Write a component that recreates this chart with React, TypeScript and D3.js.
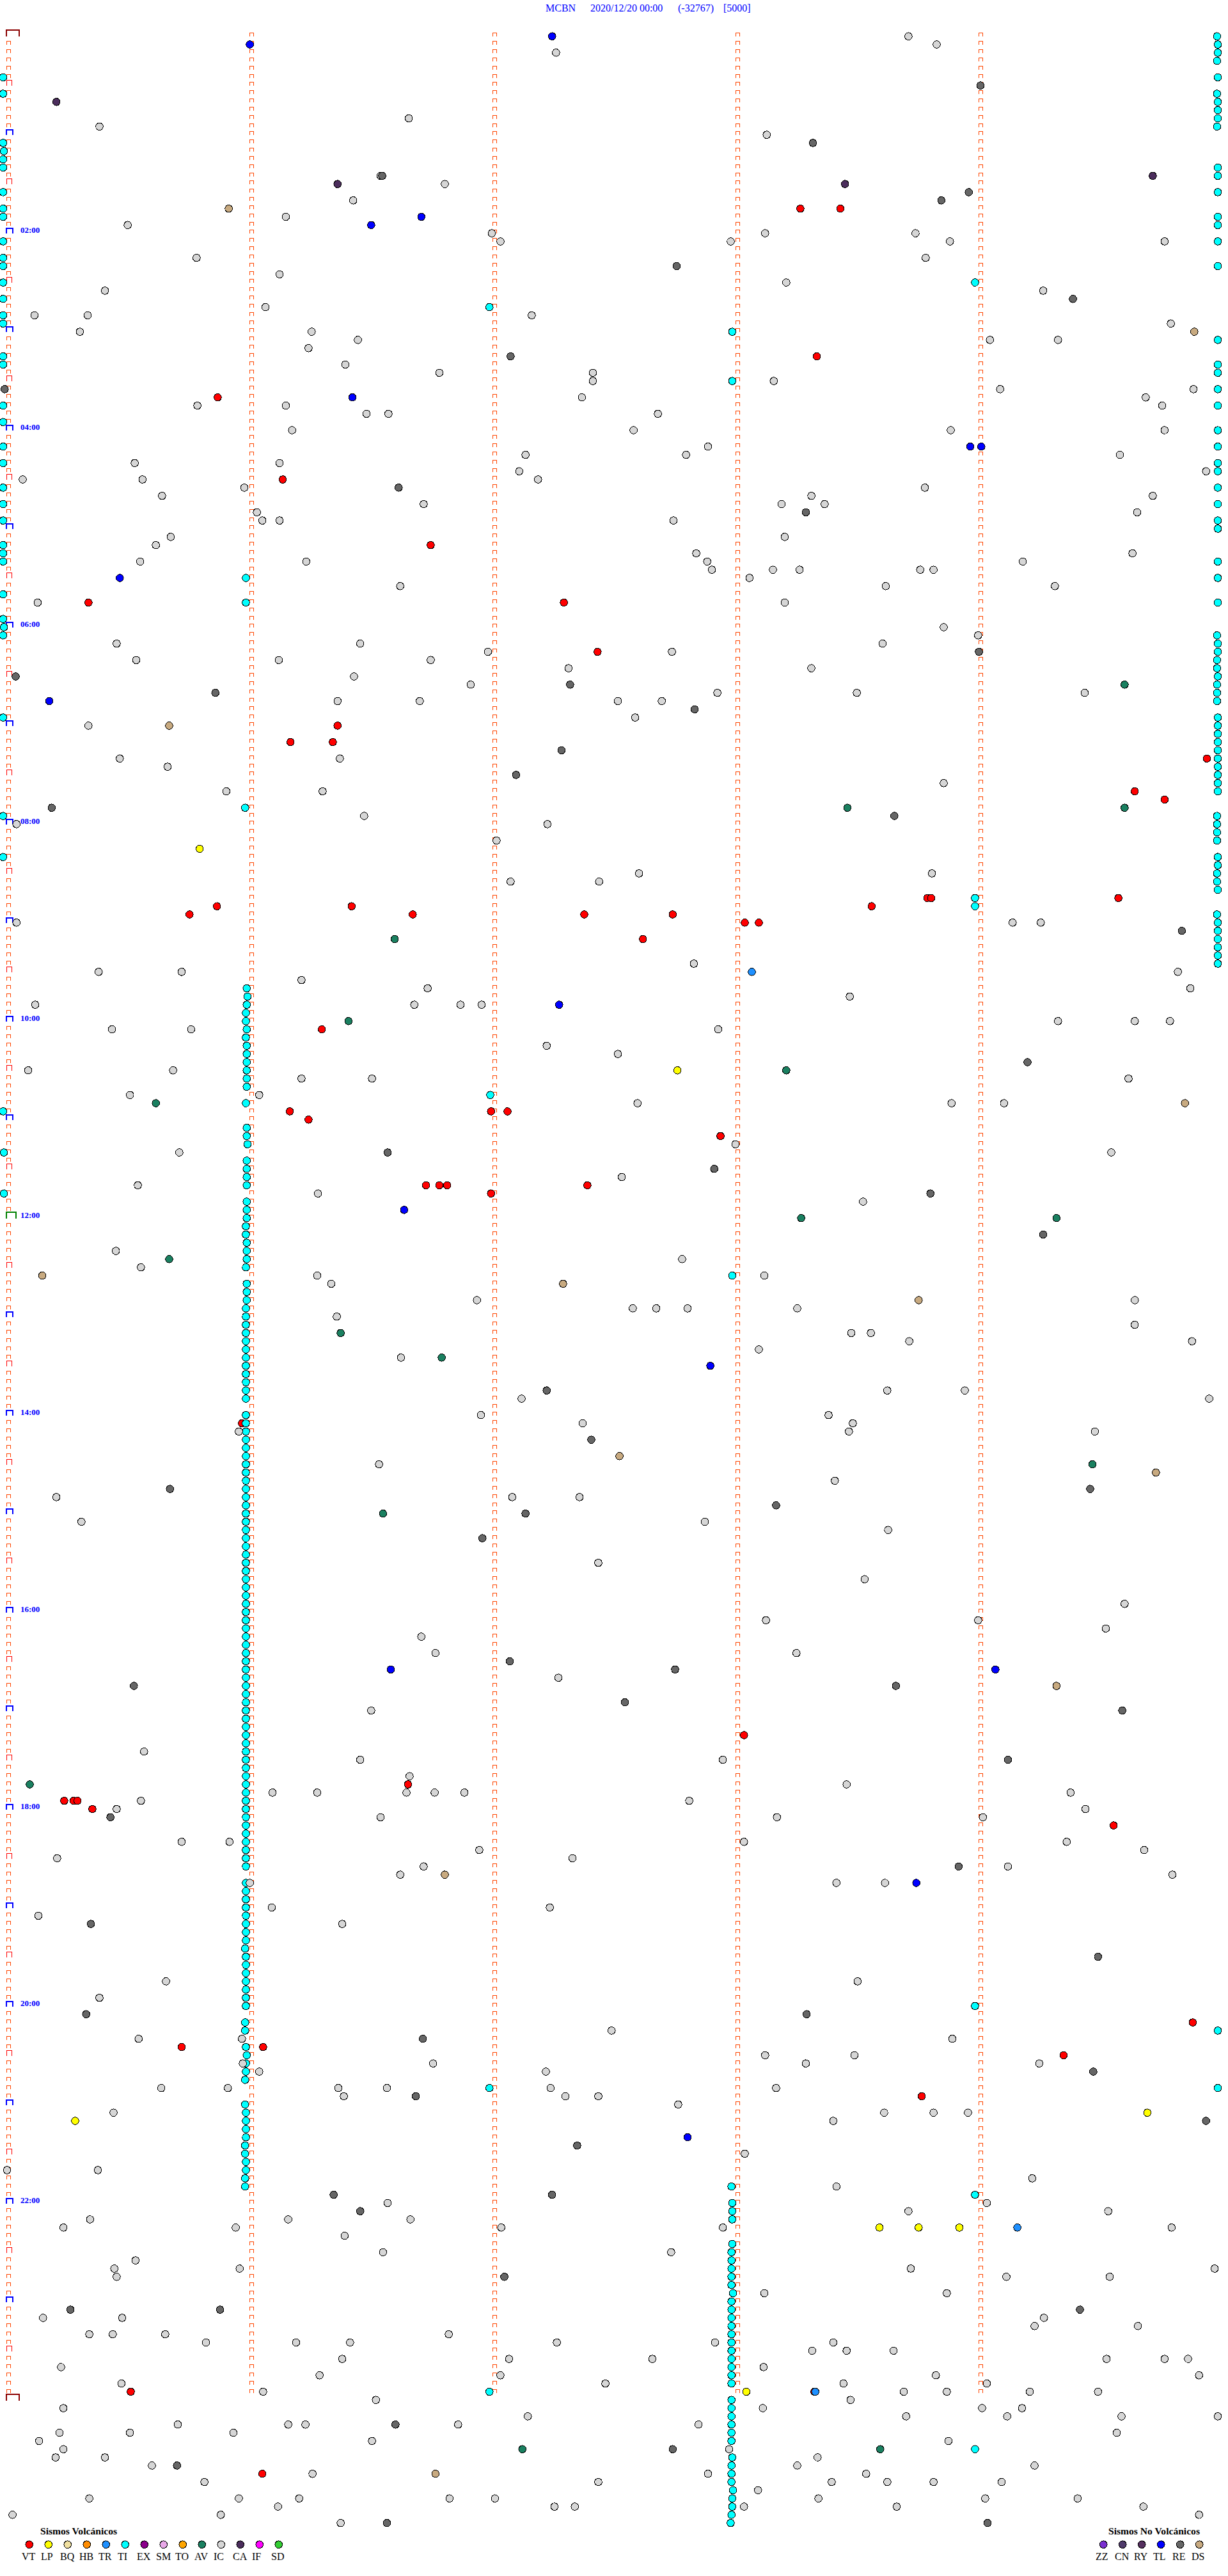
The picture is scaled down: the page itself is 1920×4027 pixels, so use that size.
import React from "react";
import * as d3 from "d3";

// Each event: [row (5-minute trace index), offset along that trace]
type Ev = [number, number];

const VT: Ev[] = [[21,1022],[21,1073],[39,1043],[44,278],[54,361],[62,550],[69,113],[69,720],[75,763],[84,431],[86,371],[86,425],[88,1541],[92,1449],[93,1487],[105,1184],[105,1189],[105,1428],[106,277],[106,449],[106,1113],[107,242],[107,527],[107,746],[107,859],[108,951],[108,969],[110,821],[121,411],[131,370],[131,627],[131,648],[132,394],[134,920],[140,544],[140,561],[140,571],[140,750],[141,627],[169,309],[207,950],[213,521],[215,82],[215,94],[215,99],[216,118],[218,1422],[242,1523],[245,232],[245,336],[246,1358],[251,1177],[287,167],[287,1040],[297,335]];
const LP: Ev[] = [[99,255],[126,865],[253,1465],[254,96],[267,1123],[267,1173],[267,1225],[287,953]];
const TR: Ev[] = [[114,960],[267,1299],[287,1041]];
const TL: Ev[] = [[0,705],[1,319],[22,538],[23,474],[44,450],[50,1239],[50,1253],[66,153],[81,63],[118,714],[143,516],[162,907],[199,499],[199,1271],[225,1170],[256,878]];
const AV: Ev[] = [[79,1436],[94,1082],[94,1436],[110,504],[120,445],[126,1004],[130,199],[144,1023],[144,1349],[149,216],[158,435],[161,564],[174,1395],[180,489],[213,38],[294,667],[294,1124]];
const CA: Ev[] = [[8,72],[17,1472],[18,431],[18,1079]];
const RE: Ev[] = [[6,1252],[13,1038],[17,488],[19,1237],[20,1202],[28,864],[32,1370],[39,652],[43,6],[55,509],[58,1029],[75,1250],[78,20],[79,728],[80,275],[82,887],[87,717],[90,659],[94,66],[95,1142],[109,1509],[125,1312],[136,495],[138,912],[141,1188],[146,1332],[165,698],[171,755],[177,217],[177,1392],[179,991],[180,671],[183,616],[198,651],[199,862],[201,171],[201,1144],[203,798],[204,1433],[210,1287],[217,141],[223,1224],[230,116],[234,1402],[241,110],[241,1030],[244,540],[248,1396],[251,531],[254,1540],[257,737],[263,426],[263,705],[265,460],[273,644],[277,90],[277,281],[277,1379],[291,505],[294,859],[296,226],[303,494],[303,1261]];
const DS: Ev[] = [[21,292],[36,1525],[84,216],[130,1513],[151,54],[152,719],[154,1173],[173,791],[175,1476],[201,1349],[224,568],[297,556]];
const TI_LEFT: Ev[] = [[5,4],[7,4],[13,4],[14,5],[15,4],[16,4],[19,4],[21,4],[22,4],[25,4],[27,4],[28,4],[30,4],[32,4],[34,4],[35,4],[39,4],[40,4],[45,4],[47,4],[50,4],[52,4],[55,4],[57,4],[59,4],[62,4],[63,4],[64,4],[68,4],[71,4],[72,5],[73,4],[83,4],[95,4],[100,4],[131,4],[136,5],[141,5]];
const TI_RIGHT: Ev[] = [[0,1554],[1,1555],[2,1555],[3,1554],[5,1555],[7,1554],[8,1555],[9,1555],[10,1555],[11,1554],[16,1555],[17,1555],[19,1555],[22,1555],[23,1555],[25,1555],[28,1555],[37,1555],[40,1555],[41,1555],[43,1555],[45,1555],[48,1555],[50,1555],[52,1555],[53,1555],[55,1555],[57,1555],[59,1555],[60,1555],[64,1555],[66,1555],[69,1555],[73,1554],[74,1555],[75,1555],[76,1554],[77,1554],[78,1555],[79,1554],[80,1554],[81,1554],[83,1555],[84,1555],[85,1555],[86,1555],[87,1555],[88,1555],[89,1555],[90,1555],[91,1555],[92,1555],[95,1554],[96,1554],[97,1554],[98,1554],[100,1555],[101,1555],[102,1554],[103,1554],[104,1555],[107,1554],[108,1555],[109,1555],[110,1555],[111,1555],[112,1555],[113,1555],[243,1555],[250,1555]];
const TI_SECOND: Ev[] = [[66,314],[69,314],[94,313],[116,315],[117,316],[118,315],[119,314],[120,314],[121,315],[122,314],[123,315],[124,315],[125,315],[126,315],[127,315],[128,315],[130,314],[133,315],[134,315],[135,316],[137,315],[138,315],[139,315],[140,315],[142,315],[143,315],[144,315],[145,314],[146,314],[147,315],[148,315],[149,315],[150,314],[152,315],[153,315],[154,315],[155,314],[156,314],[157,314],[158,314],[159,314],[160,314],[161,314],[162,314],[163,314],[164,314],[165,314],[166,314],[168,314],[169,314],[170,314],[171,314],[172,314],[173,314],[174,314],[175,314],[176,314],[177,314],[178,314],[179,314],[180,314],[181,314],[182,314],[183,314],[184,314],[185,314],[186,314],[187,314],[188,314],[189,314],[190,314],[191,314],[192,314],[193,314],[194,314],[195,314],[196,314],[197,314],[198,314],[199,314],[200,314],[201,314],[202,314],[203,314],[204,314],[205,314],[206,314],[207,314],[208,314],[209,314],[210,314],[211,314],[212,314],[213,314],[214,314],[215,314],[216,314],[217,314],[218,314],[219,314],[220,314],[221,314],[222,314],[223,314],[225,314],[226,314],[227,314],[228,314],[229,314],[230,314],[231,314],[232,314],[233,313],[234,314],[235,314],[236,314],[237,314],[238,314],[239,314],[240,314],[242,313],[243,313],[245,314],[246,315],[247,314],[248,314],[249,313],[252,313],[253,314],[254,314],[255,314],[256,314],[257,313],[258,313],[259,314],[260,314],[261,313],[262,313]];
const TI_THIRD: Ev[] = [[33,625],[129,626],[250,625],[287,625]];
const TI_FOURTH: Ev[] = [[36,935],[42,935],[151,935],[262,934],[264,935],[265,935],[266,935],[269,935],[270,934],[271,934],[272,934],[273,934],[274,934],[275,936],[276,934],[277,934],[278,934],[279,934],[280,934],[281,934],[282,934],[283,934],[284,934],[285,934],[286,934],[288,934],[289,934],[290,934],[291,934],[292,934],[293,934],[295,935],[296,934],[297,934],[298,934],[299,936],[300,935],[301,935],[302,934],[303,933]];
const TI_FIFTH: Ev[] = [[30,1245],[105,1245],[106,1245],[240,1245],[263,1245],[294,1245]];
const IC: Ev[] = [
[0,1160],[1,1196],[2,710],[10,522],[11,127],[12,979],[17,486],[18,568],[20,451],[22,365],[23,163],[24,628],[24,977],[24,1169],
[25,639],[25,933],[25,1213],[25,1487],[27,251],[27,1182],[29,357],[30,1004],[31,134],[31,1332],[33,339],[34,44],[34,112],[34,679],[35,1495],
[36,102],[36,398],[37,457],[37,1264],[37,1351],[38,394],[40,441],[41,561],[41,757],[42,757],[42,988],[43,1277],[43,1524],[44,743],[44,1463],
[45,252],[45,365],[45,1484],[46,468],[46,496],[46,840],[48,373],[48,809],[48,1214],[48,1487],
[50,904],[51,671],[51,876],[51,1430],[52,172],[52,357],[53,663],[53,1540],[54,29],[54,182],[54,687],[55,312],[55,1181],[56,207],[56,1036],[56,1472],
[57,541],[57,998],[57,1053],[58,328],[58,1452],[59,335],[59,357],[59,860],[61,218],[61,1002],[62,199],[63,889],[63,1446],[64,179],[64,391],[64,903],[64,1306],
[65,909],[65,987],[65,1021],[65,1175],[65,1192],[66,957],[67,511],[67,1131],[67,1347],[69,48],[69,1002],[72,1205],[73,1249],[74,149],[74,460],[74,1127],
[75,623],[75,858],[76,174],[76,356],[76,550],[77,726],[77,1036],[78,452],[79,601],[80,916],[80,1094],[80,1385],[81,431],[81,536],[81,789],[81,845],[83,811],
[84,113],[88,153],[88,434],[89,214],[91,1205],[92,289],[92,412],[95,465],[96,21],[96,699],[98,634],
[102,816],[102,1190],[103,652],[103,765],[108,21],[108,1293],[108,1329],[113,886],[114,126],[114,232],[114,1504],[115,385],[116,546],[116,1520],[117,1085],
[118,45],[118,529],[118,588],[118,615],[120,1351],[120,1449],[120,1494],[121,143],[121,244],[121,917],[123,698],[124,789],[126,36],[126,221],[127,385],[127,475],[127,1441],
[129,166],[129,331],[130,814],[130,1215],[130,1282],[135,939],[136,229],[136,1419],[139,794],[140,176],[141,406],[142,1102],[148,148],[149,871],[150,180],[151,405],[151,976],[152,423],
[154,609],[154,1449],[155,808],[155,838],[155,878],[155,1018],[156,430],[157,1449],[158,1087],[158,1112],[159,1161],[159,1522],[160,969],[161,512],[165,1133],[165,1232],[166,666],[166,1544],
[168,614],[168,1058],[169,744],[169,1089],[170,305],[170,1084],[170,1398],[174,484],[176,1066],[178,72],[178,654],[178,740],[181,104],[181,900],[182,1134],[186,764],[188,1104],[191,1436],
[193,978],[193,1249],[194,1412],[195,538],[197,556],[197,1017],[200,713],[204,474],
[209,184],[210,460],[210,923],[212,523],[213,1081],[214,348],[214,405],[214,519],[214,555],[214,593],[214,1367],[215,180],[215,880],[216,149],[216,1386],[217,486],[217,992],[217,1255],
[220,232],[220,293],[220,950],[220,1362],[221,612],[221,1461],[222,73],[222,731],[223,541],[223,1287],[224,511],[224,1497],[225,319],[225,1068],[225,1130],[228,347],[228,702],[229,49],[230,437],
[237,212],[237,1095],[239,127],[243,781],[244,177],[244,309],[244,1216],[246,977],[246,1091],[247,310],[247,553],[247,1029],[247,1327],[248,331],[248,697],
[250,206],[250,291],[250,432],[250,494],[250,703],[250,991],[251,439],[251,722],[251,764],[252,866],[253,145],[253,1129],[253,1192],[253,1236],[254,1064],
[258,951],[260,9],[260,125],[261,1318],[262,1068],[264,495],[264,1260],[265,1160],[265,1415],[266,115],[266,368],[266,524],[267,81],[267,301],[267,640],[267,923],[267,1496],[268,440],
[270,489],[270,857],[271,173],[272,146],[272,306],[272,1163],[272,1551],[273,149],[273,1285],[273,1417],[275,976],[275,1209],[278,55],[278,156],[278,1333],[279,1321],[279,1453],
[280,114],[280,144],[280,211],[280,573],[281,263],[281,378],[281,447],[281,711],[281,913],[281,1064],[282,1037],[282,1081],[282,1141],[283,437],[283,650],[283,833],[283,1413],[283,1487],[283,1517],
[284,78],[284,975],[285,408],[285,639],[285,1195],[285,1531],[286,155],[286,773],[286,1077],[286,1260],[287,336],[287,1154],[287,1209],[287,1315],[287,1402],[288,480],[288,1086],
[289,81],[289,974],[289,1254],[289,1305],[290,674],[290,1157],[290,1286],[290,1432],[290,1555],[291,227],[291,368],[291,390],[291,585],[291,892],[292,76],[292,166],[292,298],[292,1426],
[293,50],[293,475],[293,1211],[294,81],[294,931],[295,71],[295,134],[295,1044],[296,194],[296,1018],[296,1321],[297,399],[297,904],[297,1106],[298,261],[298,764],[298,1062],[298,1133],[298,1192],[298,1279],
[299,968],[300,114],[300,305],[300,382],[300,574],[300,632],[300,1045],[300,1258],[300,1376],[301,355],[301,708],[301,734],[301,950],[301,1145],[301,1460],[302,16],[302,282],[302,1531],[303,435]
];

const title = ["MCBN", "2020/12/20 00:00", "(-32767)", "[5000]"];
const titleX = [853, 923, 1060, 1131];
const hourLabels = ["02:00","04:00","06:00","08:00","10:00","12:00","14:00","16:00","18:00","20:00","22:00"];
const volcanicCodes = ["VT","LP","BQ","HB","TR","TI","EX","SM","TO","AV","IC","CA","IF","SD"];
const volcanicColors = ["#ff0000","#ffff00","#f0e0a0","#ff8c00","#1e90ff","#00ffff","#8b008b","#e8a8e8","#ffa500","#1a8060","#d6d6d6","#4b2d5c","#ff00ff","#32cd32"];
const tectonicCodes = ["ZZ","CN","RY","TL","RE","DS"];
const tectonicColors = ["#7a2fd0","#4f3a6a","#55305f","#0000ff","#666666","#c8aa80"];
const minuteMarks = [0, 1, 2, 3, 4];

const layers: [Ev[], string][] = [
  [VT, "#ff0000"], [TI_LEFT, "#00ffff"], [TI_RIGHT, "#00ffff"], [TI_SECOND, "#00ffff"], [TI_THIRD, "#00ffff"],
  [TI_FOURTH, "#00ffff"], [TI_FIFTH, "#00ffff"], [IC, "#d6d6d6"], [AV, "#1a8060"], [LP, "#ffff00"], [DS, "#c8aa80"],
  [CA, "#4b2d5c"], [RE, "#666666"], [TL, "#0000ff"], [TR, "#1e90ff"],
];

const W = 1920, H = 4027;
const xOffset = d3.scaleLinear().domain([0, 1568]).range([0, 1920]);
const yRow = d3.scaleLinear().domain([0, 303]).range([56.7, 3944.2]);
const xMinute = d3.scaleLinear().domain([0, 4]).range([13, 1533]);
const yHalfHour = d3.scaleLinear().domain([0, 48]).range([46, 3742]);
const SERIF = "'Liberation Serif', serif";

function capPath(x0: number, x1: number, y0: number, y1: number) {
  return `M${x0},${y1}V${y0}H${x1}V${y1}`;
}

export default function App() {
  const halfHours = d3.range(0, 48);
  const ticks: string[] = [];
  halfHours.forEach((k) => {
    d3.range(0, 6).forEach((i) => {
      const y = yHalfHour(k) + 5 + 13 * i;
      minuteMarks.forEach((m) => {
        if (m === 0 && i === 0) return;
        const x = Math.round(xMinute(m));
        ticks.push(capPath(x - 3, x + 3, y + 0.5, y + 6));
      });
    });
  });
  return (
    <svg width={W} height={H} style={{ position: "absolute", left: 0, top: 0, background: "#fff" }} fontFamily={SERIF}>
      {title.map((t, i) => (
        <text key={t} x={titleX[i]} y={18} fontSize={16} fill="#0000ff" xmlSpace="preserve">{t}</text>
      ))}
      <path d={ticks.join("")} fill="none" stroke="#ff4500" strokeWidth={1} shapeRendering="crispEdges" />
      {d3.range(0, 49).map((k) => {
        const y = yHalfHour(k);
        if (k === 0 || k === 48)
          return <path key={k} d={capPath(10, 30, y + 1, y + 11)} fill="none" stroke="#8b0000" strokeWidth={2} shapeRendering="crispEdges" />;
        if (k === 24)
          return <path key={k} d={capPath(10, 25, y + 1, y + 11)} fill="none" stroke="#008000" strokeWidth={2} shapeRendering="crispEdges" />;
        if (k % 2 === 0)
          return <path key={k} d={capPath(10, 20, y + 3, y + 11)} fill="none" stroke="#0000ff" strokeWidth={2} shapeRendering="crispEdges" />;
        return <path key={k} d={capPath(10.5, 18.5, y + 2.5, y + 11)} fill="none" stroke="#ff0000" strokeWidth={1} shapeRendering="crispEdges" />;
      })}
      {hourLabels.map((t, i) => (
        <text key={t} x={32} y={yHalfHour((i + 1) * 4) + 10} fontSize={13} fontWeight="bold" fill="#0000ff">{t}</text>
      ))}
      {layers.map(([data, color], l) => (
        <g key={l} fill={color} stroke="#000" strokeWidth={1} shapeRendering="crispEdges">
          {data.map(([r, o], i) => (
            <circle key={i} cx={xOffset(o)} cy={yRow(r)} r={5.8} />
          ))}
        </g>
      ))}
      <text x={63} y={3962} fontSize={15.6} fontWeight="bold">Sismos Volcánicos</text>
      {volcanicCodes.map((c, i) => (
        <g key={c}>
          <circle cx={45.7 + 30 * i} cy={3977.7} r={5.8} fill={volcanicColors[i]} stroke="#000" shapeRendering="crispEdges" />
          <text x={34 + 30 * i} y={4001.5} fontSize={16}>{c}</text>
        </g>
      ))}
      <text x={1733} y={3962} fontSize={15.6} fontWeight="bold">Sismos No Volcánicos</text>
      {tectonicCodes.map((c, i) => (
        <g key={c}>
          <circle cx={1725.3 + 30 * i} cy={3977.7} r={5.8} fill={tectonicColors[i]} stroke="#000" shapeRendering="crispEdges" />
          <text x={1713 + 30 * i} y={4001.5} fontSize={16}>{c}</text>
        </g>
      ))}
    </svg>
  );
}
